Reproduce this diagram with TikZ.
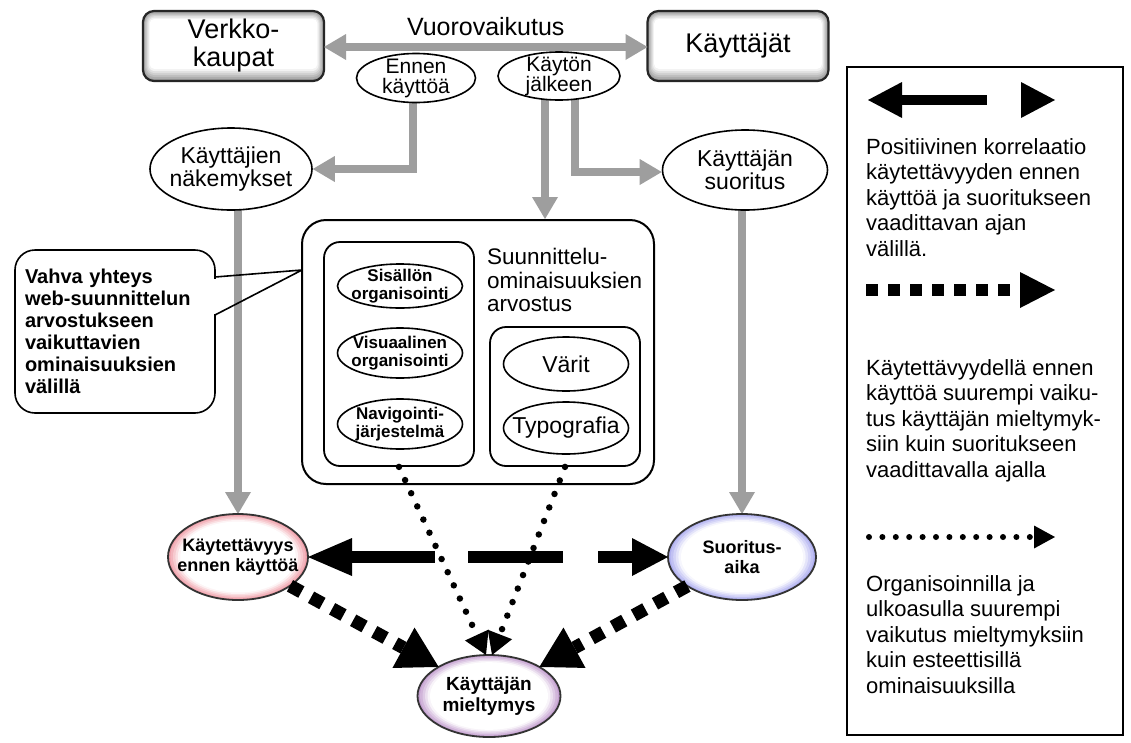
\documentclass[tikz,border=0pt]{standalone}
\usepackage{fontspec}
\setmainfont{Liberation Sans}
\usetikzlibrary{shapes.geometric,arrows.meta,calc}

\definecolor{arrgray}{RGB}{158,158,158}
\definecolor{pinkedge}{RGB}{240,160,170}
\definecolor{blueedge}{RGB}{176,176,240}
\definecolor{purpleedge}{RGB}{196,160,208}

\pgfdeclarelayer{bg}
\pgfsetlayers{bg,main}

\newcommand\fsz[2]{\fontsize{#1}{#2}\selectfont}

% stepped radial tint inside an ellipse node: node, colour, x radius, y radius
\newcommand\tintoval[4]{%
  \foreach \k [evaluate=\k as \p using {int(max(0,100-\k*22))},
               evaluate=\k as \s using {1-\k*0.035}] in {0,...,5}{%
    \fill[#2!\p!white] (#1.center) ellipse [x radius={#3*\s}, y radius={#4*\s}];
  }}
% grey rim fading to white inside a rounded box node
\newcommand\rimbox[1]{%
  \foreach \k [evaluate=\k as \p using {int(max(0,40-\k*7))},
               evaluate=\k as \r using {max(2,11-\k)}] in {0,...,6}{%
    \fill[black!\p, rounded corners=\r]
      ([xshift=\k*1.1, yshift=\k*2]#1.south west) rectangle ([xshift=-\k*1.1, yshift=-\k*1.3]#1.north east);
  }}

\begin{document}
\begin{tikzpicture}[x=1pt,y=-1pt,
  topbox/.style={draw=black!85, line width=2.2, rounded corners=11,
    minimum width=181, minimum height=70, align=center, inner sep=0, outer sep=0},
  oval/.style={ellipse, draw, line width=1.6, fill=white, inner sep=0},
  tintedoval/.style={ellipse, draw=black!80, line width=1.8, inner sep=0, outer sep=0},
  otext/.style={align=center, inner sep=0},
  frame/.style={draw, line width=1.8, rounded corners=16, fill=white},
  grayconn/.style={draw=arrgray, line width=8,
    -{Triangle[length=22pt,width=26pt,line width=0pt]}},
  corrarrow/.style={line width=12,
    {Triangle[length=44pt,width=38pt,line width=0pt]}-{Triangle[length=36pt,width=38pt,line width=0pt]}},
  squarearrow/.style={line width=13, dash pattern=on 13pt off 11pt,
    -{Triangle[length=40pt,width=46pt,line width=0pt]}},
  dotarrow/.style={line width=6.5, line cap=round, dash pattern=on 0pt off 14.5pt,
    -{Triangle[length=22pt,width=26pt,line width=0pt]}},
  legtext/.style={anchor=west, align=left, inner sep=0, font=\fsz{22}{25.5}}
]
\useasboundingbox (0,0) rectangle (1131,742);
\begin{pgfonlayer}{bg}
\fill[white] (0,0) rectangle (1131,742);
\end{pgfonlayer}

% ---- top row
\node[topbox, font=\fsz{27}{28}] (web) at (233.5,46) {Verkko-\\kaupat};
\node[topbox, font=\fsz{27}{28}] (users) at (738,46) {Käyttäjät};

\node[oval, minimum width=119, minimum height=49] (before) at (416,78) {};
\node[otext, font=\fsz{21}{20}] (beforetxt) at (before) {Ennen\\käyttöä};
\node[oval, minimum width=122, minimum height=48] (after) at (559,76) {};
\node[otext, font=\fsz{21}{20}] (aftertxt) at (after) {Käytön\\jälkeen};

\node[oval, minimum width=162, minimum height=82] (views) at (231,169) {};
\node[otext, font=\fsz{23}{23}] (viewstxt) at (views) {Käyttäjien\\näkemykset};
\node[oval, minimum width=165, minimum height=80] (perf) at (745,170) {};
\node[otext, font=\fsz{23}{23}] (perftxt) at (perf) {Käyttäjän\\suoritus};

% ---- design features
\node[draw, line width=2, rounded corners=24, fill=white, minimum width=352, minimum height=264] (design) at (478,352) {};
\node[frame, minimum width=150, minimum height=224] (layout) at (399,354) {};
\node[frame, minimum width=150, minimum height=139] (looks) at (565,396.5) {};
\node[legtext, font=\fsz{22.5}{23.5}] (designlbl) at (487,280) {Suunnittelu-\\ominaisuuksien\\arvostus};

\node[oval, minimum width=125, minimum height=44] (content) at (400,286) {};
\node[otext, font=\bfseries\fsz{17}{18}] (contenttxt) at (content) {Sisällön\\organisointi};
\node[oval, minimum width=125, minimum height=50] (visual) at (400,353) {};
\node[otext, font=\bfseries\fsz{17}{18}] (visualtxt) at (visual) {Visuaalinen\\organisointi};
\node[oval, minimum width=125, minimum height=50] (navi) at (400,424) {};
\node[otext, font=\bfseries\fsz{17}{18}] (navitxt) at (navi) {Navigointi-\\järjestelmä};
\node[oval, minimum width=125, minimum height=54] (colours) at (566,364) {};
\node[otext, font=\fsz{23}{23}] (colourstxt) at (colours) {Värit};
\node[oval, minimum width=125, minimum height=52] (typo) at (566,428) {};
\node[otext, font=\fsz{23}{23}] (typotxt) at (typo) {Typografia};

% ---- outcome nodes
\node[tintedoval, minimum width=140, minimum height=86] (usab) at (238,557) {};
\node[otext, font=\bfseries\fsz{18}{20}] (usabtxt) at (usab) {Käytettävyys\\ennen käyttöä};
\node[tintedoval, minimum width=148, minimum height=86] (time) at (742,557) {};
\node[otext, font=\bfseries\fsz{18}{20}] (timetxt) at (time) {Suoritus-\\aika};
\node[tintedoval, minimum width=143, minimum height=82] (pref) at (489,696) {};
\node[otext, font=\bfseries\fsz{19}{21}] (preftxt) at (pref) {Käyttäjän\\mieltymys};

% ---- fills and grey connectors, behind the nodes
\begin{pgfonlayer}{bg}
\rimbox{web}
\rimbox{users}
\tintoval{usab}{pinkedge}{70}{43}
\tintoval{time}{blueedge}{74}{43}
\tintoval{pref}{purpleedge}{71.5}{41}
\draw[grayconn] ([xshift=-3]before.center) |- (views.east);
\draw[grayconn] ([xshift=-14]after.center) -- ([xshift=-14]after.center |- design.north);
\draw[grayconn] ([xshift=16]after.center) |- ([yshift=-2]perf.west);
\draw[grayconn] (usab.north |- views.center) -- (usab.north);
\draw[grayconn] (time.north |- perf.center) -- (time.north);
\end{pgfonlayer}

\draw[grayconn, {Triangle[length=22pt,width=26pt,line width=0pt]}-{Triangle[length=22pt,width=26pt,line width=0pt]}]
  ([yshift=-1]web.east) -- ([yshift=-1]users.west)
  node[midway, above=4pt, draw=none, font=\fsz{25}{26}, text=black] (interaction) {Vuorovaikutus};

% ---- callout
\node[draw, line width=1.6, rounded corners=20, fill=white, minimum width=200, minimum height=163,
      text width=180, inner xsep=10, align=left, font=\bfseries\fsz{20}{22}] (note) at (115,331.5)
  {Vahva yhteys\\web-suunnittelun\\arvostukseen\\vaikuttavien\\ominaisuuksien\\välillä};
\coordinate (tip) at (302,270);
\fill[white] ([xshift=-2.5,yshift=53]note.east) rectangle ([xshift=2.5,yshift=18]note.east);
\draw[line width=1.6, line join=round] ([xshift=-0.8,yshift=54.5]note.east) -- (tip) -- ([xshift=-0.8,yshift=16.5]note.east);

% ---- black relations
\draw[corrarrow, dash pattern=on 83pt off 33pt on 95pt off 35pt on 200pt off 0pt] (usab.east) -- (time.west);
\draw[squarearrow] (usab.-29) -- (pref.150);
\draw[squarearrow] (time.208) -- (pref.30);
\draw[dotarrow] (layout.south) -- ([xshift=-3]pref.north);
\draw[dotarrow] (looks.south) -- ([xshift=3]pref.north);

% ---- key
\node[draw, line width=1.5, minimum width=276, minimum height=668] (key) at (985,401) {};

\coordinate (k1a) at (868,100); \coordinate (k1b) at (1055,100);
\draw[line width=10.5, dash pattern=on 85pt off 60pt,
  {Triangle[length=34pt,width=36pt,line width=0pt]}-{Triangle[length=34pt,width=36pt,line width=0pt]}] (k1a) -- (k1b);
\node[legtext] (key1) at (866,197.5) {Positiivinen korrelaatio\\käytettävyyden ennen\\käyttöä ja suoritukseen\\vaadittavan ajan\\välillä.};

\coordinate (k2a) at (866,290); \coordinate (k2b) at (1055,290);
\draw[line width=12, dash pattern=on 12pt off 10pt,
  -{Triangle[length=35pt,width=36pt,line width=0pt]}] (k2a) -- (k2b);
\node[legtext] (key2) at (866,420.5) {Käytettävyydellä ennen\\käyttöä suurempi vaiku-\\tus käyttäjän mieltymyk-\\siin kuin suoritukseen\\vaadittavalla ajalla};

\coordinate (k3a) at (869,537); \coordinate (k3b) at (1055,537);
\draw[line width=6, line cap=round, dash pattern=on 0pt off 13.4pt,
  -{Triangle[length=21pt,width=23pt,line width=0pt]}] (k3a) -- (k3b);
\node[legtext] (key3) at (866,634.5) {Organisoinnilla ja\\ulkoasulla suurempi\\vaikutus mieltymyksiin\\kuin esteettisillä\\ominaisuuksilla};
\end{tikzpicture}
\end{document}
